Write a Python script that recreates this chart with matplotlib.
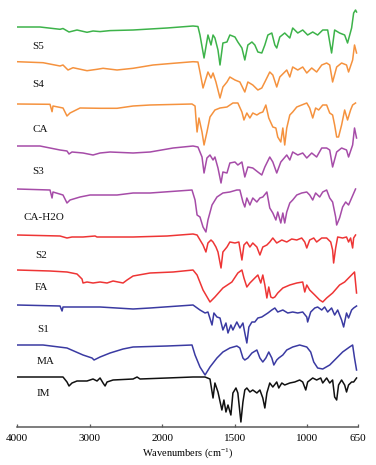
import numpy as np
import matplotlib
matplotlib.use("Agg")
import matplotlib.pyplot as plt

plt.rcParams["mathtext.fontset"] = "custom"
plt.rcParams["mathtext.rm"] = "Liberation Serif"
plt.rcParams["mathtext.it"] = "Liberation Serif:italic"
plt.rcParams["mathtext.default"] = "rm"

# ---- data: wavenumber (cm-1) and stacked signal (larger = lower on page)
s5_wn = [4000, 3683, 3407, 3366, 3283, 3173, 3035, 2952, 2855, 2717, 2400, 2166, 1966, 1787, 1753,
         1739, 1711, 1684, 1663, 1649, 1636, 1615, 1601, 1581, 1553, 1533, 1498, 1478, 1450, 1430, 1409,
         1381, 1361, 1340, 1313, 1292, 1271, 1244, 1223, 1210, 1189, 1155, 1120, 1100, 1065, 1031, 997,
         962, 928, 893, 859, 832, 811, 777, 742, 722, 694, 680, 667, 660]
s5_t = [27, 27, 29.3, 28.5, 32, 30, 32.3, 31, 31.6, 30.6, 30, 29, 28, 26, 26.5,
        35, 58, 35, 45, 35, 38, 50, 65, 43, 42, 35, 37, 42, 48, 60, 45,
        42, 45, 52, 53, 45, 35, 33, 45, 48, 37, 33, 38, 28, 33, 30, 35,
        32, 35, 30, 30, 53, 30, 33, 35, 43, 28, 13, 10, 12]

s4_wn = [4000, 3641, 3407, 3366, 3297, 3228, 3035, 2897, 2814, 2621, 2400, 2125, 1924, 1787, 1753,
         1739, 1718, 1684, 1663, 1649, 1629, 1601, 1581, 1553, 1533, 1498, 1464, 1430, 1409, 1375, 1340,
         1313, 1292, 1258, 1237, 1210, 1189, 1141, 1120, 1100, 1065, 1031, 1003, 969, 935, 900, 866,
         845, 825, 797, 763, 729, 715, 687, 674, 660]
s4_t = [61.7, 62.7, 66, 65, 70, 67.7, 70.7, 69.3, 68.3, 70, 68.3, 65, 63.3, 61.7, 62,
        72, 88, 72, 78, 73, 82, 98, 87, 82, 77, 80, 82, 92, 82, 85, 90,
        88, 82, 72, 75, 87, 77, 70, 77, 67, 70, 67, 73, 68, 72, 65, 63,
        65, 82, 67, 63, 65, 72, 60, 45, 53]

ca_wn = [4000, 3545, 3517, 3504, 3366, 3311, 3269, 3131, 2855, 2621, 2400, 2166, 1794, 1773,
         1766, 1759, 1746, 1725, 1711, 1691, 1670, 1636, 1601, 1553, 1512, 1478, 1450, 1436, 1416, 1395,
         1375, 1347, 1326, 1306, 1285, 1265, 1237, 1216, 1203, 1182, 1168, 1155, 1141, 1120, 1100, 1072,
         1038, 1003, 983, 962, 942, 921, 893, 866, 845, 825, 811, 797, 784, 763, 742, 722, 701, 687, 667]
ca_t = [104, 104.3, 111.7, 106, 108, 116, 113, 108, 108.3, 108.3, 106, 105, 104, 106,
        120, 132, 118, 132, 145, 132, 117, 110, 108, 107, 103, 103, 112, 120, 113, 118,
        113, 115, 113, 112, 105, 118, 127, 128, 137, 142, 128, 145, 128, 115, 112, 107,
        105, 103, 108, 118, 108, 110, 105, 105, 113, 115, 125, 137, 137, 125, 110, 120, 110, 105, 103]

s3_wn = [4000, 3683, 3407, 3311, 3283, 3242, 3090, 2952, 2855, 2717, 2400, 2166, 1924, 1787, 1753,
         1725, 1711, 1691, 1670, 1649, 1636, 1615, 1594, 1581, 1553, 1533, 1498, 1478, 1450, 1430, 1409,
         1375, 1340, 1313, 1292, 1258, 1237, 1210, 1182, 1141, 1120, 1100, 1065, 1031, 1003, 969, 935,
         900, 866, 845, 825, 797, 763, 729, 715, 687, 674, 660]
s3_t = [146, 146, 150, 151, 154, 152, 153, 155, 153, 152, 153, 152, 148, 146, 147,
        157, 173, 158, 155, 160, 157, 168, 183, 172, 173, 163, 162, 165, 162, 177, 167,
        168, 172, 175, 167, 157, 162, 173, 162, 155, 160, 152, 155, 153, 158, 153, 157,
        148, 148, 150, 167, 152, 148, 150, 157, 145, 128, 138]

cah_wn = [4000, 3545, 3517, 3504, 3366, 3311, 3269, 3131, 2993, 2855, 2621, 2400, 2166, 1794, 1773,
          1759, 1739, 1718, 1698, 1684, 1656, 1622, 1581, 1533, 1485, 1464, 1443, 1430, 1416, 1395, 1375,
          1347, 1326, 1306, 1278, 1258, 1237, 1216, 1203, 1182, 1168, 1155, 1141, 1120, 1100, 1072, 1038,
          1003, 983, 962, 942, 914, 893, 866, 845, 825, 804, 797, 777, 756, 735, 715, 694, 667]
cah_t = [189, 190, 198, 192, 195, 203, 200, 197, 195, 195, 195, 193, 193, 190, 200,
         215, 217, 227, 232, 220, 205, 197, 193, 192, 190, 190, 202, 207, 198, 205, 198,
         202, 198, 197, 192, 208, 213, 220, 212, 223, 213, 223, 212, 203, 200, 195, 193,
         192, 195, 200, 193, 197, 192, 190, 198, 202, 217, 225, 218, 207, 202, 205, 198, 189]

s2_wn = [4000, 3407, 3311, 3242, 3090, 2924, 2897, 2814, 2400, 1966, 1787, 1759,
         1718, 1698, 1684, 1663, 1649, 1629, 1615, 1594, 1581, 1553, 1533, 1498, 1471, 1450, 1436, 1416,
         1395, 1375, 1347, 1326, 1306, 1278, 1258, 1237, 1210, 1175, 1141, 1107, 1072, 1038, 1017, 1003,
         983, 955, 935, 900, 866, 838, 825, 818, 804, 790, 756, 729, 715, 701, 687, 680, 667]
s2_t = [235, 236, 238, 237, 237, 236, 237, 237, 237, 236, 234, 235,
        245, 252, 243, 240, 242, 247, 252, 268, 252, 247, 242, 243, 242, 260, 245, 242,
        247, 243, 247, 255, 247, 245, 242, 238, 243, 240, 242, 239, 240, 238, 242, 248,
        240, 238, 242, 238, 238, 242, 250, 263, 248, 237, 238, 237, 242, 238, 248, 238, 235]

fa_wn = [4000, 3545, 3311, 3173, 3104, 3090, 3035, 2952, 2855, 2759, 2676, 2607, 2538, 2483, 2400,
         2166, 1924, 1787, 1759, 1718, 1670, 1636, 1581, 1519, 1478, 1450, 1436, 1416, 1395, 1361, 1340,
         1320, 1306, 1292, 1278, 1265, 1251, 1237, 1223, 1203, 1168, 1120, 1072, 1031, 1017, 1003, 983,
         948, 914, 893, 866, 825, 777, 742, 708, 674, 660]
fa_t = [270, 271, 272, 274, 279, 283, 282, 283, 282, 283, 281, 282, 283, 280, 276,
        273, 272, 270, 275, 290, 302, 297, 288, 282, 273, 270, 278, 287, 283, 278, 275,
        283, 275, 285, 298, 287, 297, 298, 297, 293, 288, 285, 283, 282, 292, 285, 290,
        295, 300, 302, 298, 293, 285, 282, 277, 272, 293]

s1_wn = [4000, 3407, 3379, 3366, 3090, 2855, 2400, 2166, 1787,
         1739, 1704, 1684, 1656, 1643, 1622, 1601, 1581, 1560, 1546, 1526, 1512, 1485, 1464, 1443, 1430,
         1416, 1402, 1381, 1361, 1340, 1313, 1292, 1271, 1244, 1223, 1203, 1168, 1134, 1100, 1065, 1031,
         1003, 997, 976, 948, 928, 900, 880, 859, 832, 811, 790, 763, 749, 729, 715, 694, 680, 660]
s1_t = [305, 306, 311, 307, 307, 307, 309, 308, 305,
        310, 313, 312, 325, 313, 317, 318, 330, 323, 333, 325, 330, 322, 328, 323, 333,
        343, 327, 322, 322, 318, 317, 315, 313, 310, 308, 312, 310, 313, 312, 313, 312,
        317, 322, 312, 308, 307, 310, 307, 312, 308, 315, 310, 320, 327, 313, 318, 310, 308, 306]

ma_wn = [4000, 3641, 3311, 3090, 2966, 2938, 2855, 2717, 2538, 2400, 1966, 1794,
         1773, 1739, 1704, 1670, 1622, 1581, 1533, 1485, 1464, 1443, 1430, 1409, 1381, 1347, 1326,
         1306, 1285, 1265, 1244, 1230, 1210, 1196, 1168, 1141, 1100, 1052, 1003, 976, 955, 928,
         893, 845, 797, 756, 708, 687, 674, 660]
ma_t = [345, 345, 348, 355, 358, 360, 357, 353, 349, 347, 346, 345,
        355, 367, 375, 367, 358, 352, 348, 346, 348, 358, 360, 358, 353, 350, 358,
        362, 358, 352, 358, 365, 360, 358, 355, 350, 347, 345, 347, 352, 362, 368,
        369, 365, 358, 352, 347, 345, 358, 370]

im_wn = [4000, 3366, 3311, 3283, 3242, 3173, 3035, 2952, 2897, 2855, 2814, 2786, 2759, 2676, 2400,
         2345, 2304, 1966, 1787,
         1704, 1670, 1649, 1636, 1615, 1588, 1574, 1560, 1546, 1526, 1512, 1491, 1478, 1457, 1443, 1430,
         1416, 1395, 1375, 1347, 1326, 1306, 1292, 1278, 1258, 1237, 1210, 1196, 1175, 1155, 1120, 1086,
         1052, 1031, 1010, 997, 962, 935, 907, 893, 866, 845, 825, 811, 797, 784, 763, 742, 729, 715,
         694, 680, 660]
im_t = [377, 377, 382, 386, 383, 381, 381, 379, 381, 378, 383, 386, 382, 380, 379,
        377, 379, 378, 377,
        377, 379, 398, 383, 392, 410, 400, 412, 405, 415, 393, 388, 393, 422, 402, 390,
        388, 392, 390, 393, 390, 398, 408, 393, 383, 387, 382, 388, 383, 385, 383, 382,
        380, 382, 390, 382, 378, 380, 378, 383, 378, 383, 380, 397, 400, 385, 380, 385, 392, 385,
        382, 382, 378]

names = ["S5", "S4", "CA", "S3", "CA-H2O", "S2", "FA", "S1", "MA", "IM"]
label_wn = [3793, 3793, 3793, 3793, 3917, 3752, 3752, 3724, 3724, 3724]
label_t = [47, 85, 130, 172, 217, 256, 288, 330, 361, 393]
tick_vals = [4000, 3000, 2000, 1500, 1000, 650]

series = [(s5_wn, s5_t), (s4_wn, s4_t), (ca_wn, ca_t), (s3_wn, s3_t), (cah_wn, cah_t),
          (s2_wn, s2_t), (fa_wn, fa_t), (s1_wn, s1_t), (ma_wn, ma_t), (im_wn, im_t)]
colors = ["#3db34a", "#f5923e", "#f5923e", "#a64ca8", "#a64ca8",
          "#ee3535", "#ee3535", "#3a3aa2", "#3a3aa2", "#111111"]

# piecewise wavenumber scale: half scale above 2000 cm-1
def fwd(w):
    w = np.asarray(w, dtype=float)
    return np.where(w >= 2000, 2000 + (w - 2000) * 0.5, w)

def inv(u):
    u = np.asarray(u, dtype=float)
    return np.where(u >= 2000, 2000 + (u - 2000) * 2.0, u)

fig = plt.figure(figsize=(3.76, 4.65), dpi=100)
ax = fig.add_axes([17 / 376, (465 - 427) / 465, (358 - 17) / 376, (427 - 5) / 465])
ax.set_xscale("function", functions=(fwd, inv))
ax.set_xlim(4000, 650)
ax.set_ylim(427, 5)

for (wn, t), c in zip(series, colors):
    ax.plot(wn, t, color=c, lw=1.1, solid_joinstyle="round")

serif = "Liberation Serif"
for n, xw, yt in zip(names, label_wn, label_t):
    ax.text(xw, yt, n, family=serif, fontsize=8, ha="left", va="center", color="#111111")

for s in ["top", "left", "right"]:
    ax.spines[s].set_visible(False)
ax.spines["bottom"].set_color("#5a5a5a")
ax.spines["bottom"].set_linewidth(1.1)
ax.set_yticks([])
ax.set_xticks(tick_vals)
ax.set_xticklabels([str(v) for v in tick_vals], family=serif, fontsize=8)
ax.xaxis.set_minor_locator(matplotlib.ticker.NullLocator())
ax.tick_params(axis="x", direction="in", length=2.5, width=0.9, color="#5a5a5a", pad=5)
ax.set_xlabel("Wavenumbers (cm$^{-1}$)", family=serif, fontsize=7.5, labelpad=2)

fig.savefig("out.png", dpi=100)
